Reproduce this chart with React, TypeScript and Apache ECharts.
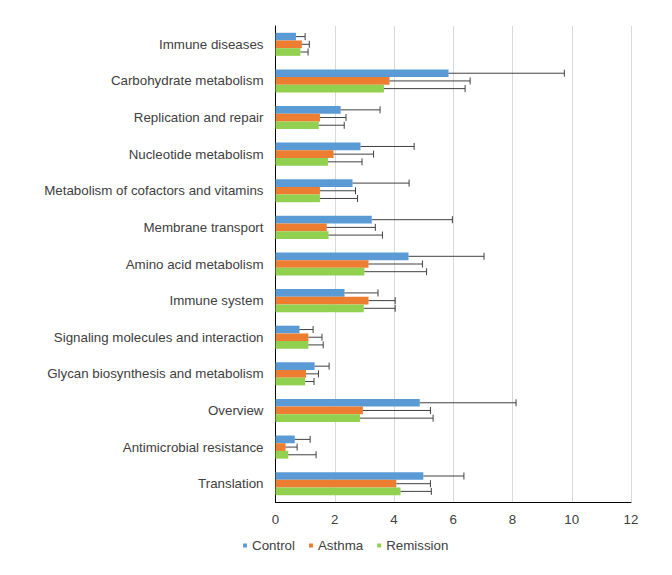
import React, { useEffect, useRef } from "react";
import * as echarts from "echarts";

const categories = [
  "Immune diseases",
  "Carbohydrate metabolism",
  "Replication and repair",
  "Nucleotide metabolism",
  "Metabolism of cofactors and vitamins",
  "Membrane transport",
  "Amino acid metabolism",
  "Immune system",
  "Signaling molecules and interaction",
  "Glycan biosynthesis and metabolism",
  "Overview",
  "Antimicrobial resistance",
  "Translation",
];

const seriesNames = ["Control", "Asthma", "Remission"];
const colors = ["#5B9BD5", "#ED7D31", "#92D050"];

const controlValues = [0.69, 5.84, 2.2, 2.87, 2.6, 3.25, 4.49, 2.33, 0.81, 1.32, 4.87, 0.65, 4.99];
const controlErrors = [0.31, 3.91, 1.33, 1.81, 1.91, 2.72, 2.55, 1.13, 0.46, 0.49, 3.25, 0.52, 1.37];
const asthmaValues = [0.89, 3.85, 1.5, 1.96, 1.5, 1.73, 3.14, 3.14, 1.11, 1.03, 2.95, 0.34, 4.08];
const asthmaErrors = [0.25, 2.72, 0.88, 1.35, 1.2, 1.64, 1.82, 0.9, 0.46, 0.42, 2.28, 0.39, 1.15];
const remissionValues = [0.84, 3.66, 1.46, 1.77, 1.5, 1.79, 3.0, 2.98, 1.11, 1.0, 2.85, 0.43, 4.22];
const remissionErrors = [0.26, 2.74, 0.86, 1.15, 1.27, 1.82, 2.1, 1.06, 0.5, 0.3, 2.47, 0.94, 1.04];

const allValues = [controlValues, asthmaValues, remissionValues];
const allErrors = [controlErrors, asthmaErrors, remissionErrors];

const CAT_GAP = 0.37;

export default function App() {
  const ref = useRef<HTMLDivElement>(null);
  useEffect(() => {
    if (!ref.current) return;
    const chart = echarts.init(ref.current, undefined, { renderer: "svg" });
    const font = "'Liberation Sans', Arial, sans-serif";
    const fs = 13.33;
    const barSeries = seriesNames.map((name, i) => ({
      name,
      type: "bar",
      data: allValues[i],
      itemStyle: { color: colors[i] },
      barGap: "0%",
      barCategoryGap: CAT_GAP * 100 + "%",
      z: 2,
    }));
    const errorSeries = seriesNames.map((name, si) => ({
      name: name + "_err",
      type: "custom",
      z: 3,
      silent: true,
      data: categories.map((_, ci) => [ci, allValues[si][ci], allValues[si][ci] + allErrors[si][ci]]),
      renderItem: (params: any, api: any) => {
        const ci = api.value(0);
        const v = api.value(1);
        const e = api.value(2);
        const p0 = api.coord([v, ci]);
        const p1 = api.coord([e, ci]);
        const band = api.size([0, 1])[1];
        const barH = (band * (1 - CAT_GAP)) / 3;
        const y = p0[1] - 1.5 * barH + (si + 0.5) * barH;
        const style = { stroke: "#404040", lineWidth: 1 };
        return {
          type: "group",
          children: [
            { type: "line", shape: { x1: p0[0], y1: y, x2: p1[0], y2: y }, style },
            { type: "line", shape: { x1: p1[0], y1: y - 3.5, x2: p1[0], y2: y + 3.5 }, style },
          ],
        };
      },
    }));
    chart.setOption({
      animation: false,
      textStyle: { fontFamily: font },
      grid: { left: 267.5, right: 33, top: 18, bottom: 65, containLabel: false },
      legend: {
        data: seriesNames,
        top: 531,
        left: 235,
        icon: "rect",
        itemWidth: 4,
        itemHeight: 4,
        itemGap: 14,
        padding: 0,
        textStyle: { fontSize: fs, color: "#404040", fontFamily: font },
      },
      xAxis: {
        type: "value",
        min: 0,
        max: 12,
        interval: 2,
        axisLine: { show: true, lineStyle: { color: "#000", width: 1 } },
        axisTick: { show: false },
        splitLine: { show: true, lineStyle: { color: "#D9D9D9", width: 1 } },
        axisLabel: { fontSize: fs, color: "#404040", margin: 11, fontFamily: font },
      },
      yAxis: {
        type: "category",
        data: categories,
        inverse: true,
        axisLine: { show: true, lineStyle: { color: "#000", width: 1 } },
        axisTick: { show: false },
        axisLabel: { fontSize: fs, color: "#404040", margin: 12, fontFamily: font },
      },
      series: [...barSeries, ...errorSeries],
    });
    return () => chart.dispose();
  }, []);
  return <div ref={ref} style={{ width: 656, height: 559 }} />;
}
